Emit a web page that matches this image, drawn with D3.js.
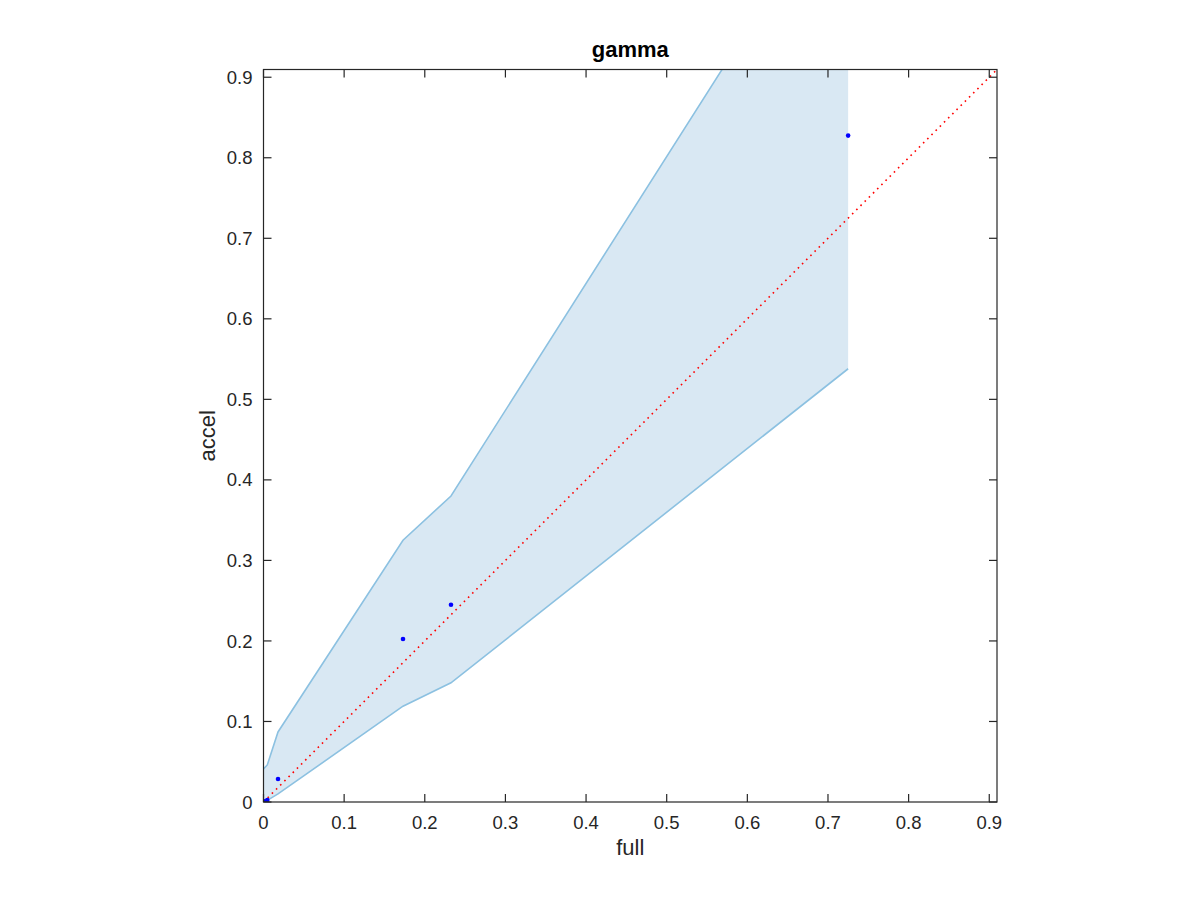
<!DOCTYPE html>
<html><head><meta charset="utf-8">
<script src="https://cdn.jsdelivr.net/npm/d3@7"></script>
<style>body{margin:0;background:#fff}text{font-family:"Liberation Sans",Arial,sans-serif}</style>
</head><body><svg id="c" width="1200" height="900"></svg>
<script>
const bandX = [0, 0.0047, 0.018, 0.173, 0.2325, 0.725];
const bandUpper = [0.041, 0.046, 0.087, 0.325, 0.380, 1.156];
const bandLower = [0, 0.002, 0.010, 0.119, 0.148, 0.538];
const pointX = [0, 0.0015, 0.0047, 0.018, 0.173, 0.2325, 0.725];
const pointY = [0, 0.001, 0.0025, 0.0286, 0.2025, 0.245, 0.8275];
const tickValues = [0, 0.1, 0.2, 0.3, 0.4, 0.5, 0.6, 0.7, 0.8, 0.9];
const axisMax = 0.9096;
const titleText = "gamma", xLabel = "full", yLabel = "accel";

const svg = d3.select("#c");
const L = 263.5, R = 997, T = 69.5, B = 802;
const x = d3.scaleLinear().domain([0, axisMax]).range([L, R]);
const y = d3.scaleLinear().domain([0, axisMax]).range([B, T]);

svg.append("clipPath").attr("id","clip").append("rect")
  .attr("x",L).attr("y",T).attr("width",R-L).attr("height",B-T);
const g = svg.append("g").attr("clip-path","url(#clip)");

const band = bandX.map((v,i)=>({x:v,lo:bandLower[i],hi:bandUpper[i]}));
g.append("path").datum(band)
  .attr("d", d3.area().x(d=>x(d.x)).y0(d=>y(d.lo)).y1(d=>y(d.hi)))
  .attr("fill","#d9e8f3");
g.append("path").datum(band)
  .attr("d", d3.line().x(d=>x(d.x)).y(d=>y(d.hi)))
  .attr("fill","none").attr("stroke","#8cc1e1").attr("stroke-width",1.6);
g.append("path").datum(band)
  .attr("d", d3.line().x(d=>x(d.x)).y(d=>y(d.lo)))
  .attr("fill","none").attr("stroke","#8cc1e1").attr("stroke-width",1.6);

g.append("line").attr("x1",x(0)).attr("y1",y(0)).attr("x2",x(axisMax)).attr("y2",y(axisMax))
  .attr("stroke","#ff0000").attr("stroke-width",1.6).attr("stroke-dasharray","1.6,4.3");

g.selectAll("circle.p").data(pointX.map((v,i)=>[v,pointY[i]])).enter().append("circle")
  .attr("cx",d=>x(d[0])).attr("cy",d=>y(d[1])).attr("r",2.3).attr("fill","#0000ff");

const ax = svg.append("g").attr("stroke","#262626").attr("stroke-width",1.2);
ax.append("rect").attr("x",L).attr("y",T).attr("width",R-L).attr("height",B-T).attr("fill","none");
const tl = 8;
tickValues.forEach(v=>{
  ax.append("line").attr("x1",x(v)).attr("x2",x(v)).attr("y1",B).attr("y2",B-tl);
  ax.append("line").attr("x1",x(v)).attr("x2",x(v)).attr("y1",T).attr("y2",T+tl);
  ax.append("line").attr("y1",y(v)).attr("y2",y(v)).attr("x1",L).attr("x2",L+tl);
  ax.append("line").attr("y1",y(v)).attr("y2",y(v)).attr("x1",R).attr("x2",R-tl);
});
const fmt = v => v===0 ? "0" : d3.format(".1f")(v);
svg.selectAll("text.xt").data(tickValues).enter().append("text")
  .attr("x",d=>x(d)).attr("y",B+26.5).attr("text-anchor","middle")
  .attr("font-size",18.5).attr("fill","#262626").text(fmt);
svg.selectAll("text.yt").data(tickValues).enter().append("text")
  .attr("x",L-11).attr("y",d=>y(d)+6.6).attr("text-anchor","end")
  .attr("font-size",18.5).attr("fill","#262626").text(fmt);
svg.append("text").attr("x",(L+R)/2).attr("y",57).attr("text-anchor","middle")
  .attr("font-size",22).attr("font-weight","bold").attr("fill","#000").text(titleText);
svg.append("text").attr("x",(L+R)/2).attr("y",855).attr("text-anchor","middle")
  .attr("font-size",22).attr("fill","#262626").text(xLabel);
svg.append("text").attr("transform",`translate(215,${(T+B)/2}) rotate(-90)`).attr("text-anchor","middle")
  .attr("font-size",22).attr("fill","#262626").text(yLabel);
</script></body></html>
